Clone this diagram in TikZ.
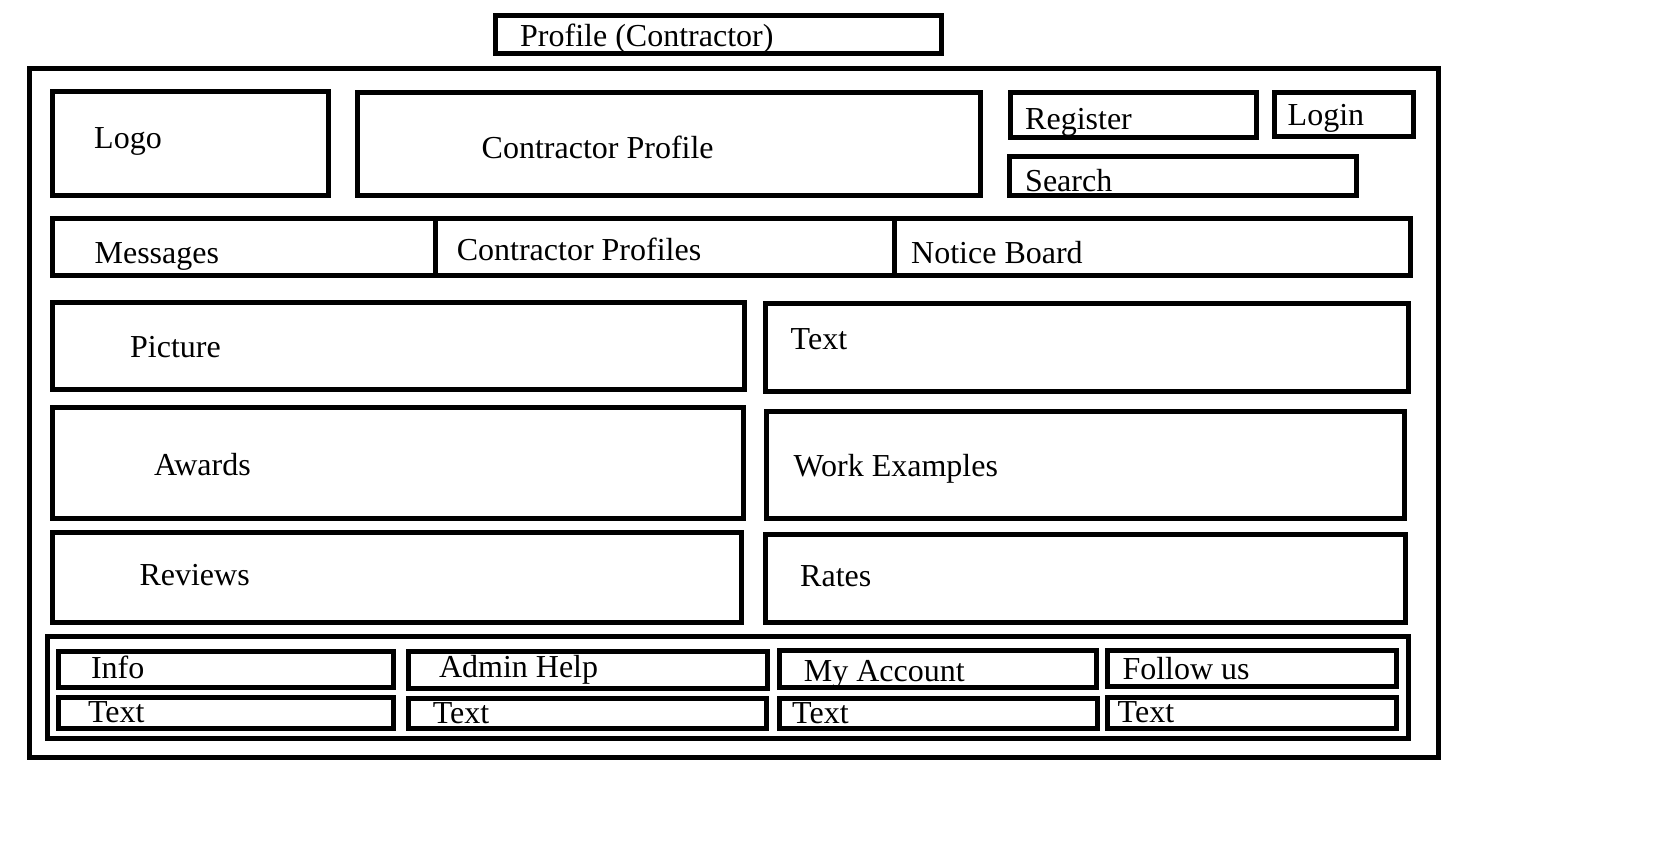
\documentclass[tikz,border=0pt]{standalone}
\usepackage{fontspec}
\setmainfont{Liberation Serif}
\tikzset{
  boxline/.style={draw=black, line width=5pt},
  lbl/.style={anchor=base west, inner sep=0pt, yshift=-2pt, font=\fontsize{32}{32}\selectfont},
}
\newcommand{\wbox}[5]{\draw[boxline] (#2,#3) rectangle (#4,#5) coordinate (#1);}
\begin{document}
\begin{tikzpicture}[x=1pt, y=-1pt]
\useasboundingbox[fill=white] (0,0) rectangle (1679,848);
% title
\wbox{titlebox}{495}{16}{941}{54}
\node[lbl] (title) at (520,45) {Profile (Contractor)};
% outer frame
\wbox{frame}{29.5}{69}{1438}{757}
% header row
\wbox{logobox}{52}{91.5}{328}{195}
\node[lbl] (logo) at (94,147) {Logo};
\wbox{cpbox}{357}{92.5}{980}{195}
\node[lbl] (cp) at (481.5,157) {Contractor Profile};
\wbox{regbox}{1010}{92.5}{1256.7}{138}
\node[lbl] (reg) at (1025,128) {Register};
\wbox{loginbox}{1274.6}{92.5}{1413}{137}
\node[lbl] (login) at (1287.5,124) {Login};
\wbox{searchbox}{1009}{156.5}{1356}{195}
\node[lbl] (search) at (1025,189) {Search};
% nav bar
\wbox{navbox}{52}{218.5}{1410.7}{275}
\draw[boxline] (435.5,218.5) coordinate (d1t) -- (435.5,275) coordinate (d1b);
\draw[boxline] (894,218.5) coordinate (d2t) -- (894,275) coordinate (d2b);
\node[lbl] (msg) at (94.4,261.7) {Messages};
\node[lbl] (cps) at (456.6,258) {Contractor Profiles};
\node[lbl] (nb) at (911,261) {Notice Board};
% content
\wbox{picbox}{52}{302.8}{744}{389.7}
\node[lbl] (pic) at (130,355) {Picture};
\wbox{txtbox}{765.5}{303}{1408}{391.7}
\node[lbl] (txt) at (790.5,347.7) {Text};
\wbox{awbox}{52}{407.7}{743}{518.3}
\node[lbl] (aw) at (154,473.3) {Awards};
\wbox{webox}{766.5}{411.7}{1404}{518.8}
\node[lbl] (we) at (793.3,474) {Work Examples};
\wbox{revbox}{52}{532.8}{741.8}{622}
\node[lbl] (rev) at (139.3,583.3) {Reviews};
\wbox{ratebox}{765.5}{534}{1405}{622.8}
\node[lbl] (rate) at (800,584) {Rates};
% footer
\wbox{footbox}{47}{636}{1408}{738}
\wbox{infobox}{58}{651}{393.3}{687}
\node[lbl] (info) at (90.8,676.7) {Info};
\wbox{t1box}{58}{697}{393}{728.3}
\node[lbl] (t1) at (87.8,720) {Text};
\wbox{ahbox}{408.7}{651.7}{767}{688}
\node[lbl] (ah) at (438.8,675) {Admin Help};
\wbox{t2box}{408.7}{698}{766.6}{728.7}
\node[lbl] (t2) at (432.7,721.7) {Text};
\wbox{mabox}{779}{650}{1096.8}{687}
\node[lbl] (ma) at (803.7,679.3) {My Account};
\wbox{t3box}{779}{698}{1097}{728.7}
\node[lbl] (t3) at (792,721) {Text};
\wbox{fubox}{1107.6}{650}{1396.5}{686.5}
\node[lbl] (fu) at (1122.3,677.3) {Follow us};
\wbox{t4box}{1107.6}{697.5}{1396.5}{728}
\node[lbl] (t4) at (1117.5,720) {Text};
\end{tikzpicture}
\end{document}
